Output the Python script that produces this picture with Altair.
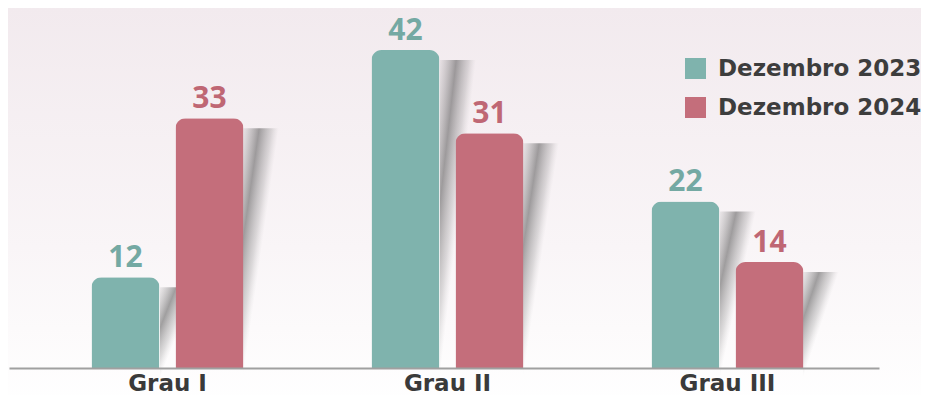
import altair as alt
import pandas as pd

categories = ["Grau I", "Grau II", "Grau III"]
series = ["Dezembro 2023", "Dezembro 2024"]
values_2023 = [12, 42, 22]
values_2024 = [33, 31, 14]
bar_colors = ["#7fb3ad", "#c46e7b"]
text_colors = ["#74a9a3", "#bf6774"]

rows = []
for i, c in enumerate(categories):
    rows.append({"grau": c, "serie": series[0], "valor": values_2023[i]})
    rows.append({"grau": c, "serie": series[1], "valor": values_2024[i]})
df = pd.DataFrame(rows)

W, H = 870, 360
YMAX = 360 / 7.57

x_enc = alt.X(
    "grau:N",
    sort=categories,
    scale=alt.Scale(paddingInner=0, paddingOuter=15 / 280, align=0.617),
    axis=alt.Axis(
        title=None, labelAngle=0, ticks=False, tickSize=0, grid=False,
        domainColor="#a0a0a0", domainWidth=2, zindex=1,
        labelFont="DejaVu Sans", labelFontWeight="bold", labelFontSize=23,
        labelColor="#3a3a3a", labelPadding=4,
    ),
)
y_enc = alt.Y("valor:Q", scale=alt.Scale(domain=[0, YMAX], nice=False, zero=True), axis=None)
bar_off = alt.XOffset("serie:N", sort=series,
                      scale=alt.Scale(type="band", domain=series, paddingInner=16 / 84, paddingOuter=0.762))
text_off = alt.XOffset("serie:N", sort=series,
                       scale=alt.Scale(type="band", domain=series, paddingInner=16 / 84, paddingOuter=0.762))
shadow_off = alt.XOffset("serie:N", sort=series,
                         scale=alt.Scale(type="band", domain=series, range=[132.5, 251.5],
                                         paddingInner=0.566, paddingOuter=0))

bg_gradient = {
    "gradient": "linear", "x1": 0, "y1": 0, "x2": 0, "y2": 1,
    "stops": [
        {"offset": 0, "color": "#f2eaee"},
        {"offset": 0.6, "color": "#f9f5f7"},
        {"offset": 1, "color": "#ffffff"},
    ],
}
shadow_gradient = {
    "gradient": "linear", "x1": 0, "y1": 0, "x2": 0.5, "y2": 0.5,
    "stops": [
        {"offset": 0, "color": "rgba(120,120,120,0.10)"},
        {"offset": 0.45, "color": "rgba(60,60,60,0.48)"},
        {"offset": 0.8, "color": "rgba(100,100,100,0.2)"},
        {"offset": 1, "color": "rgba(150,150,150,0)"},
    ],
}

bg = alt.Chart(pd.DataFrame({"a": [0]})).mark_rect(color=bg_gradient).encode(
    x=alt.value(-10), x2=alt.value(W + 60), y=alt.value(-1), y2=alt.value(H + 40)
)

shadows = alt.Chart(df).mark_bar(color=shadow_gradient, yOffset=10, y2Offset=-16).encode(
    x=x_enc, xOffset=shadow_off, y=y_enc
)

bars = alt.Chart(df).mark_bar(cornerRadiusTopLeft=10, cornerRadiusTopRight=10).encode(
    x=x_enc, xOffset=bar_off, y=y_enc,
    color=alt.Color(
        "serie:N", sort=series,
        scale=alt.Scale(domain=series, range=bar_colors),
        legend=alt.Legend(
            title=None, orient="none", legendX=675, legendY=49,
            symbolType="square", symbolSize=441, symbolStrokeWidth=0, symbolOpacity=1,
            labelFont="DejaVu Sans", labelFontWeight="bold", labelFontSize=23,
            labelColor="#3d3d3d", labelOffset=11, rowPadding=15, padding=0,
            labelLimit=400,
        ),
    ),
)

labels = alt.Chart(df).mark_text(
    font="Open Sans", fontWeight="bold", fontSize=30, baseline="alphabetic", dy=-10
).encode(
    x=x_enc, xOffset=text_off, y=y_enc, text="valor:Q",
    color=alt.Color("serie:N", sort=series, scale=alt.Scale(domain=series, range=text_colors), legend=None),
)

chart = alt.layer(bg, shadows, bars, labels).resolve_scale(
    xOffset="independent", color="independent"
).properties(
    width=W, height=H,
    autosize=alt.AutoSizeParams(type="none"),
    padding={"left": 1, "top": 0, "right": 42, "bottom": 27},
    background="white",
).configure_view(stroke=None)

chart.save("out.html", embed_options={"renderer": "svg", "actions": False})
